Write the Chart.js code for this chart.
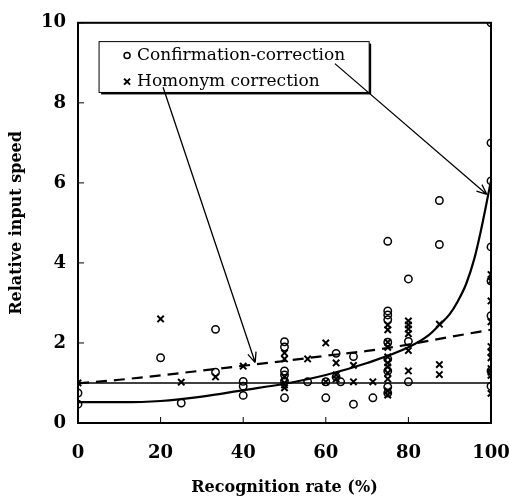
<!DOCTYPE html>
<html>
<head>
<meta charset="utf-8">
<script src="https://cdn.jsdelivr.net/npm/chart.js@4"></script>
<style>
  body { margin: 0; background: #fff; }
</style>
</head>
<body>
<canvas id="chart" width="509" height="501"></canvas>
<script>
// confirmation-correction (circles)
const confRate = [0, 0, 20, 25, 33.3, 33.3, 40, 40, 40, 50, 50, 50, 50, 50, 50, 55.6, 60, 60, 62.5, 62.5, 63.6, 66.7, 66.7, 71.4,
  75, 75, 75, 75, 75, 75, 75, 75, 75, 80, 80, 80, 87.5, 87.5, 100, 100, 100, 100, 100, 100, 100, 100];
const confSpeed = [0.75, 0.47, 1.63, 0.5, 2.34, 1.27, 1.04, 0.92, 0.69, 2.03, 1.9, 1.3, 1.2, 1.05, 0.63, 1.03, 1.03, 0.63, 1.74, 1.15, 1.03, 1.66, 0.47, 0.63,
  4.54, 2.8, 2.7, 2.58, 2.02, 1.6, 1.3, 0.9, 0.75, 3.6, 2.04, 1.03, 5.56, 4.46, 10, 7, 6.05, 4.4, 3.55, 2.68, 1.3, 0.92];

// homonym correction (crosses)
const homRate = [0, 20, 25, 33.3, 40, 50, 50, 50, 50, 50, 50, 55.6, 60, 60, 62.5, 62.5, 62.5, 66.7, 66.7, 71.4,
  75, 75, 75, 75, 75, 75, 75, 75, 75, 75, 75, 80, 80, 80, 80, 80, 80, 87.5, 87.5, 87.5,
  100, 100, 100, 100, 100, 100, 100, 100, 100, 100, 100];
const homSpeed = [1.0, 2.6, 1.02, 1.15, 1.42, 1.75, 1.6, 1.15, 1.0, 0.95, 0.88, 1.6, 2.0, 1.03, 1.5, 1.2, 1.1, 1.44, 1.03, 1.03,
  2.45, 2.33, 2.02, 1.89, 1.65, 1.5, 1.4, 1.25, 1.1, 0.8, 0.7, 2.55, 2.45, 2.35, 2.23, 1.81, 1.3, 2.47, 1.46, 1.21,
  3.71, 3.55, 3.05, 2.53, 1.91, 1.77, 1.63, 1.36, 1.27, 1.19, 0.74];

// fitted curves
const confFitRate = [0, 10, 20, 30, 40, 50, 60, 70, 80, 85, 87.7, 90, 92, 94, 96, 97.5, 98.7, 99.5, 100];
const confFitSpeed = [0.52, 0.52, 0.55, 0.66, 0.82, 0.98, 1.2, 1.5, 1.89, 2.2, 2.47, 2.72, 3.05, 3.48, 4.12, 4.78, 5.38, 5.8, 6.05];
const homFitRate = [0, 10, 20, 30, 40, 50, 60, 70, 80, 90, 100];
const homFitSpeed = [0.99, 1.08, 1.19, 1.31, 1.43, 1.55, 1.68, 1.8, 1.96, 2.15, 2.33];

const refRate = [0, 100];
const refSpeed = [1, 1];

const xTicks = [0, 20, 40, 60, 80, 100];
const yTicks = [0, 2, 4, 6, 8, 10];

const legendLabels = ["Confirmation-correction", "Homonym correction"];

const pts = (xs, ys) => xs.map((x, i) => ({ x: x, y: ys[i] }));
const serif = "'DejaVu Serif', serif";

// frame, inward ticks, legend box and arrows
const decor = {
  id: "decor",
  afterDraw(chart) {
    const { ctx, chartArea: a, scales } = chart;
    const sx = scales.x, sy = scales.y;
    ctx.save();
    ctx.strokeStyle = "#000";
    ctx.lineWidth = 2;
    ctx.strokeRect(a.left, a.top, a.right - a.left, a.bottom - a.top);
    ctx.lineWidth = 1;
    ctx.beginPath();
    xTicks.forEach(v => {
      const p = sx.getPixelForValue(v);
      ctx.moveTo(p, a.bottom); ctx.lineTo(p, a.bottom - 6);
    });
    yTicks.forEach(v => {
      const p = sy.getPixelForValue(v);
      ctx.moveTo(a.left, p); ctx.lineTo(a.left + 6, p);
    });
    ctx.stroke();

    // legend box
    const bx = sx.getPixelForValue(5.1), by = sy.getPixelForValue(9.53);
    const bw = sx.getPixelForValue(70.5) - bx, bh = sy.getPixelForValue(8.26) - by;
    ctx.fillStyle = "#000";
    ctx.fillRect(bx + 2, by + 2, bw, bh);
    ctx.fillStyle = "#fff";
    ctx.fillRect(bx, by, bw, bh);
    ctx.lineWidth = 1;
    ctx.strokeRect(bx, by, bw, bh);
    ctx.fillStyle = "#000";
    ctx.font = "17px " + serif;
    ctx.textBaseline = "middle";
    const mx = bx + 28;
    const y1 = by + 14, y2 = by + 40;
    ctx.lineWidth = 1.5;
    ctx.beginPath(); ctx.arc(mx, y1, 3, 0, Math.PI * 2); ctx.stroke();
    ctx.lineWidth = 2;
    ctx.beginPath();
    ctx.moveTo(mx - 3, y2 - 3); ctx.lineTo(mx + 3, y2 + 3);
    ctx.moveTo(mx + 3, y2 - 3); ctx.lineTo(mx - 3, y2 + 3);
    ctx.stroke();
    ctx.fillText(legendLabels[0], mx + 10, y1);
    ctx.fillText(legendLabels[1], mx + 10, y2);

    // arrows
    const arrow = (x0, y0, x1, y1) => {
      const p0 = [sx.getPixelForValue(x0), sy.getPixelForValue(y0)];
      const p1 = [sx.getPixelForValue(x1), sy.getPixelForValue(y1)];
      const ang = Math.atan2(p1[1] - p0[1], p1[0] - p0[0]);
      ctx.lineWidth = 1.3;
      ctx.beginPath();
      ctx.moveTo(p0[0], p0[1]); ctx.lineTo(p1[0], p1[1]);
      [0.4, -0.4].forEach(d => {
        ctx.moveTo(p1[0], p1[1]);
        ctx.lineTo(p1[0] - 11 * Math.cos(ang + d), p1[1] - 11 * Math.sin(ang + d));
      });
      ctx.stroke();
    };
    arrow(62.2, 8.98, 99, 5.71);
    arrow(20.6, 8.39, 42.9, 1.51);
    ctx.restore();
  }
};

new Chart(document.getElementById("chart"), {
  type: "scatter",
  data: {
    datasets: [
      {
        label: "ref", data: pts(refRate, refSpeed), showLine: true,
        borderColor: "#000", borderWidth: 1.5, pointRadius: 0,
      },
      {
        label: "conf fit", data: pts(confFitRate, confFitSpeed), showLine: true,
        borderColor: "#000", borderWidth: 2.2, pointRadius: 0, cubicInterpolationMode: "monotone",
      },
      {
        label: "hom fit", data: pts(homFitRate, homFitSpeed), showLine: true,
        borderColor: "#000", borderWidth: 2.2, borderDash: [11, 7], pointRadius: 0, cubicInterpolationMode: "monotone",
      },
      {
        label: legendLabels[0], data: pts(confRate, confSpeed),
        pointStyle: "circle", pointRadius: 3.7, borderColor: "#000", backgroundColor: "rgba(0,0,0,0)", borderWidth: 1.5,
      },
      {
        label: legendLabels[1], data: pts(homRate, homSpeed),
        pointStyle: "crossRot", pointRadius: 4.5, borderColor: "#000", borderWidth: 2,
      },
    ],
  },
  options: {
    responsive: false,
    animation: false,
    layout: { padding: { top: 19, right: 0, left: 3, bottom: 0 } },
    plugins: { legend: { display: false }, tooltip: { enabled: false } },
    scales: {
      x: {
        type: "linear", min: 0, max: 100,
        afterBuildTicks: s => { s.ticks = xTicks.map(v => ({ value: v })); },
        afterFit: s => { s.height = 78; s.paddingRight = 18; },
        grid: { display: false, drawTicks: false },
        border: { display: false },
        ticks: { color: "#000", padding: 20, font: { family: serif, size: 18, weight: "bold" } },
        title: { display: true, text: "Recognition rate (%)", color: "#000", padding: { top: 10 }, font: { family: serif, size: 16, weight: "bold" } },
      },
      y: {
        type: "linear", min: 0, max: 10,
        afterBuildTicks: s => { s.ticks = yTicks.map(v => ({ value: v })); },
        afterFit: s => { s.width = 75; },
        grid: { display: false, drawTicks: false },
        border: { display: false },
        ticks: { color: "#000", padding: 12, font: { family: serif, size: 18, weight: "bold" } },
        title: { display: true, text: "Relative input speed", color: "#000", padding: { bottom: 4 }, font: { family: serif, size: 16, weight: "bold" } },
      },
    },
  },
  plugins: [decor],
});
</script>
</body>
</html>
